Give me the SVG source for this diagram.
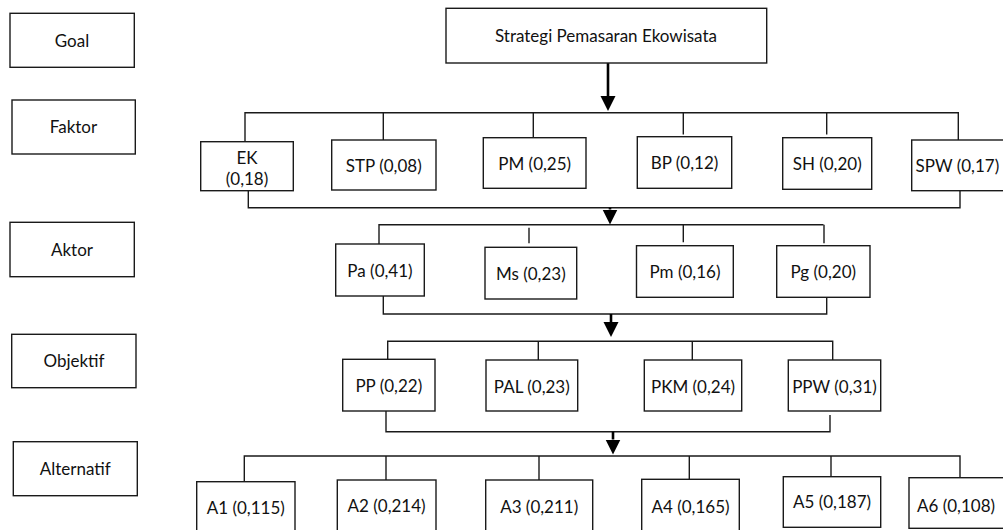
<svg xmlns="http://www.w3.org/2000/svg" width="1003" height="530" viewBox="0 0 1003 530">
<style>
  .box { fill: #ffffff; stroke: #1a1a1a; stroke-width: 1.4; }
  .t { font-family: Lato, "Liberation Sans", sans-serif; font-size: 17px; fill: #111; text-anchor: middle; }
  .ln { stroke: #1a1a1a; stroke-width: 1.4; fill: none; }
  .ar { stroke: #000; stroke-width: 2.6; fill: none; marker-end: url(#head); }
</style>
<defs>
  <marker id="head" markerUnits="userSpaceOnUse" markerWidth="16" markerHeight="16" refX="0" refY="8" orient="auto" viewBox="0 0 16 16">
    <path d="M0,0.5 L15,8 L0,15.5 z" fill="#000"/>
  </marker>
</defs>
<rect width="1003" height="530" fill="#ffffff"/>

<g id="level-labels">
  <g id="lbl-goal"><rect class="box" x="10" y="13.3" width="124.3" height="54"/><text class="t" x="72" y="46.6">Goal</text></g>
  <g id="lbl-faktor"><rect class="box" x="12" y="100" width="123.3" height="54"/><text class="t" x="73.5" y="133.3">Faktor</text></g>
  <g id="lbl-aktor"><rect class="box" x="10" y="222.3" width="124.3" height="54.4"/><text class="t" x="72" y="256">Aktor</text></g>
  <g id="lbl-objektif"><rect class="box" x="11.7" y="334.3" width="124.3" height="53.4"/><text class="t" x="74" y="367.3">Objektif</text></g>
  <g id="lbl-alternatif"><rect class="box" x="13.3" y="441.7" width="124" height="54"/><text class="t" x="75.3" y="475">Alternatif</text></g>
</g>

<g id="connectors">
  <line class="ar" x1="608" y1="63" x2="608" y2="96"/>
  <polyline class="ln" points="245,141.7 245,112.7 958.3,112.7 958.3,140"/>
  <line class="ln" x1="383.3" y1="112.7" x2="383.3" y2="140"/>
  <line class="ln" x1="533.3" y1="112.7" x2="533.3" y2="137.7"/>
  <line class="ln" x1="683.3" y1="112.7" x2="683.3" y2="134.5"/>
  <line class="ln" x1="826.7" y1="112.7" x2="826.7" y2="134.5"/>
  <polyline class="ln" points="248.3,190.7 248.3,207.7 960,207.7 960,190.7"/>

  <line class="ar" x1="610" y1="207.7" x2="610" y2="209.5"/>
  <polyline class="ln" points="379,244 379,224.7 823.5,224.7"/>
  <line class="ln" x1="529" y1="227.7" x2="529" y2="243.3"/>
  <line class="ln" x1="683.3" y1="224.7" x2="683.3" y2="242.3"/>
  <line class="ln" x1="824" y1="224.7" x2="824" y2="243.3"/>
  <polyline class="ln" points="383.3,296 383.3,314 826.7,314 826.7,297.3"/>

  <line class="ar" x1="611" y1="314" x2="611" y2="322"/>
  <polyline class="ln" points="387.7,359.3 387.7,341.3 832.7,341.3 832.7,360"/>
  <line class="ln" x1="538.3" y1="341.3" x2="538.3" y2="360"/>
  <line class="ln" x1="692.3" y1="341.3" x2="692.3" y2="360"/>
  <polyline class="ln" points="386,411 386,431.7 830,431.7 830,415"/>

  <line class="ar" x1="613" y1="431.7" x2="613" y2="439.5"/>
  <polyline class="ln" points="244.3,481.7 244.3,456 960,456 960,477.7"/>
  <line class="ln" x1="386" y1="456" x2="386" y2="480"/>
  <line class="ln" x1="539" y1="456" x2="539" y2="480"/>
  <line class="ln" x1="689.3" y1="456" x2="689.3" y2="479.3"/>
  <line class="ln" x1="831" y1="456" x2="831" y2="476.7"/>
</g>

<g id="goal"><rect class="box" x="446" y="8.3" width="320.7" height="54.7"/><text class="t" x="606" y="41.8">Strategi Pemasaran Ekowisata</text></g>

<g id="ek"><rect class="box" x="200.7" y="141.7" width="92.6" height="49"/><text class="t" x="247" y="163.8">EK</text><text class="t" x="247" y="184.6">(0,18)</text></g>
<g id="stp"><rect class="box" x="331.7" y="140" width="104.3" height="50"/><text class="t" x="383.8" y="171.5">STP (0,08)</text></g>
<g id="pm"><rect class="box" x="483.3" y="137.7" width="102.7" height="50.6"/><text class="t" x="534.7" y="169.5">PM (0,25)</text></g>
<g id="bp"><rect class="box" x="637.3" y="136.7" width="94.4" height="51.6"/><text class="t" x="684.5" y="169.3">BP (0,12)</text></g>
<g id="sh"><rect class="box" x="782.7" y="137.7" width="89" height="51.6"/><text class="t" x="827.2" y="170">SH (0,20)</text></g>
<g id="spw"><rect class="box" x="911.7" y="140" width="100" height="50.7"/><text class="t" x="957.4" y="172">SPW (0,17)</text></g>

<g id="pa"><rect class="box" x="335.7" y="244" width="88.6" height="52"/><text class="t" x="380" y="276.8">Pa (0,41)</text></g>
<g id="ms"><rect class="box" x="485" y="247.3" width="91.7" height="51.7"/><text class="t" x="530.8" y="279.8">Ms (0,23)</text></g>
<g id="pmk"><rect class="box" x="636.5" y="245.7" width="96.8" height="51.6"/><text class="t" x="685" y="278.2">Pm (0,16)</text></g>
<g id="pg"><rect class="box" x="776.7" y="245.7" width="93.3" height="51.6"/><text class="t" x="823.3" y="278.2">Pg (0,20)</text></g>

<g id="pp"><rect class="box" x="342.7" y="359.3" width="92.3" height="51.7"/><text class="t" x="388.8" y="391.7">PP (0,22)</text></g>
<g id="pal"><rect class="box" x="486" y="360" width="91.7" height="51"/><text class="t" x="531.8" y="392.5">PAL (0,23)</text></g>
<g id="pkm"><rect class="box" x="644.3" y="360" width="97.4" height="51"/><text class="t" x="693" y="392.5">PKM (0,24)</text></g>
<g id="ppw"><rect class="box" x="788.3" y="360" width="92.4" height="51"/><text class="t" x="834.5" y="392.5">PPW (0,31)</text></g>

<g id="a1"><rect class="box" x="196.7" y="481.7" width="98.3" height="60"/><text class="t" x="245.8" y="514">A1 (0,115)</text></g>
<g id="a2"><rect class="box" x="337.3" y="480" width="98.7" height="60"/><text class="t" x="386.6" y="511.7">A2 (0,214)</text></g>
<g id="a3"><rect class="box" x="485.7" y="480" width="107" height="60"/><text class="t" x="539.2" y="512.5">A3 (0,211)</text></g>
<g id="a4"><rect class="box" x="641.7" y="479.3" width="97.6" height="60"/><text class="t" x="690.5" y="513">A4 (0,165)</text></g>
<g id="a5"><rect class="box" x="783.3" y="476.7" width="97.4" height="50.6"/><text class="t" x="832" y="508.3">A5 (0,187)</text></g>
<g id="a6"><rect class="box" x="909" y="477.7" width="100" height="50.6"/><text class="t" x="956" y="512">A6 (0,108)</text></g>
</svg>
